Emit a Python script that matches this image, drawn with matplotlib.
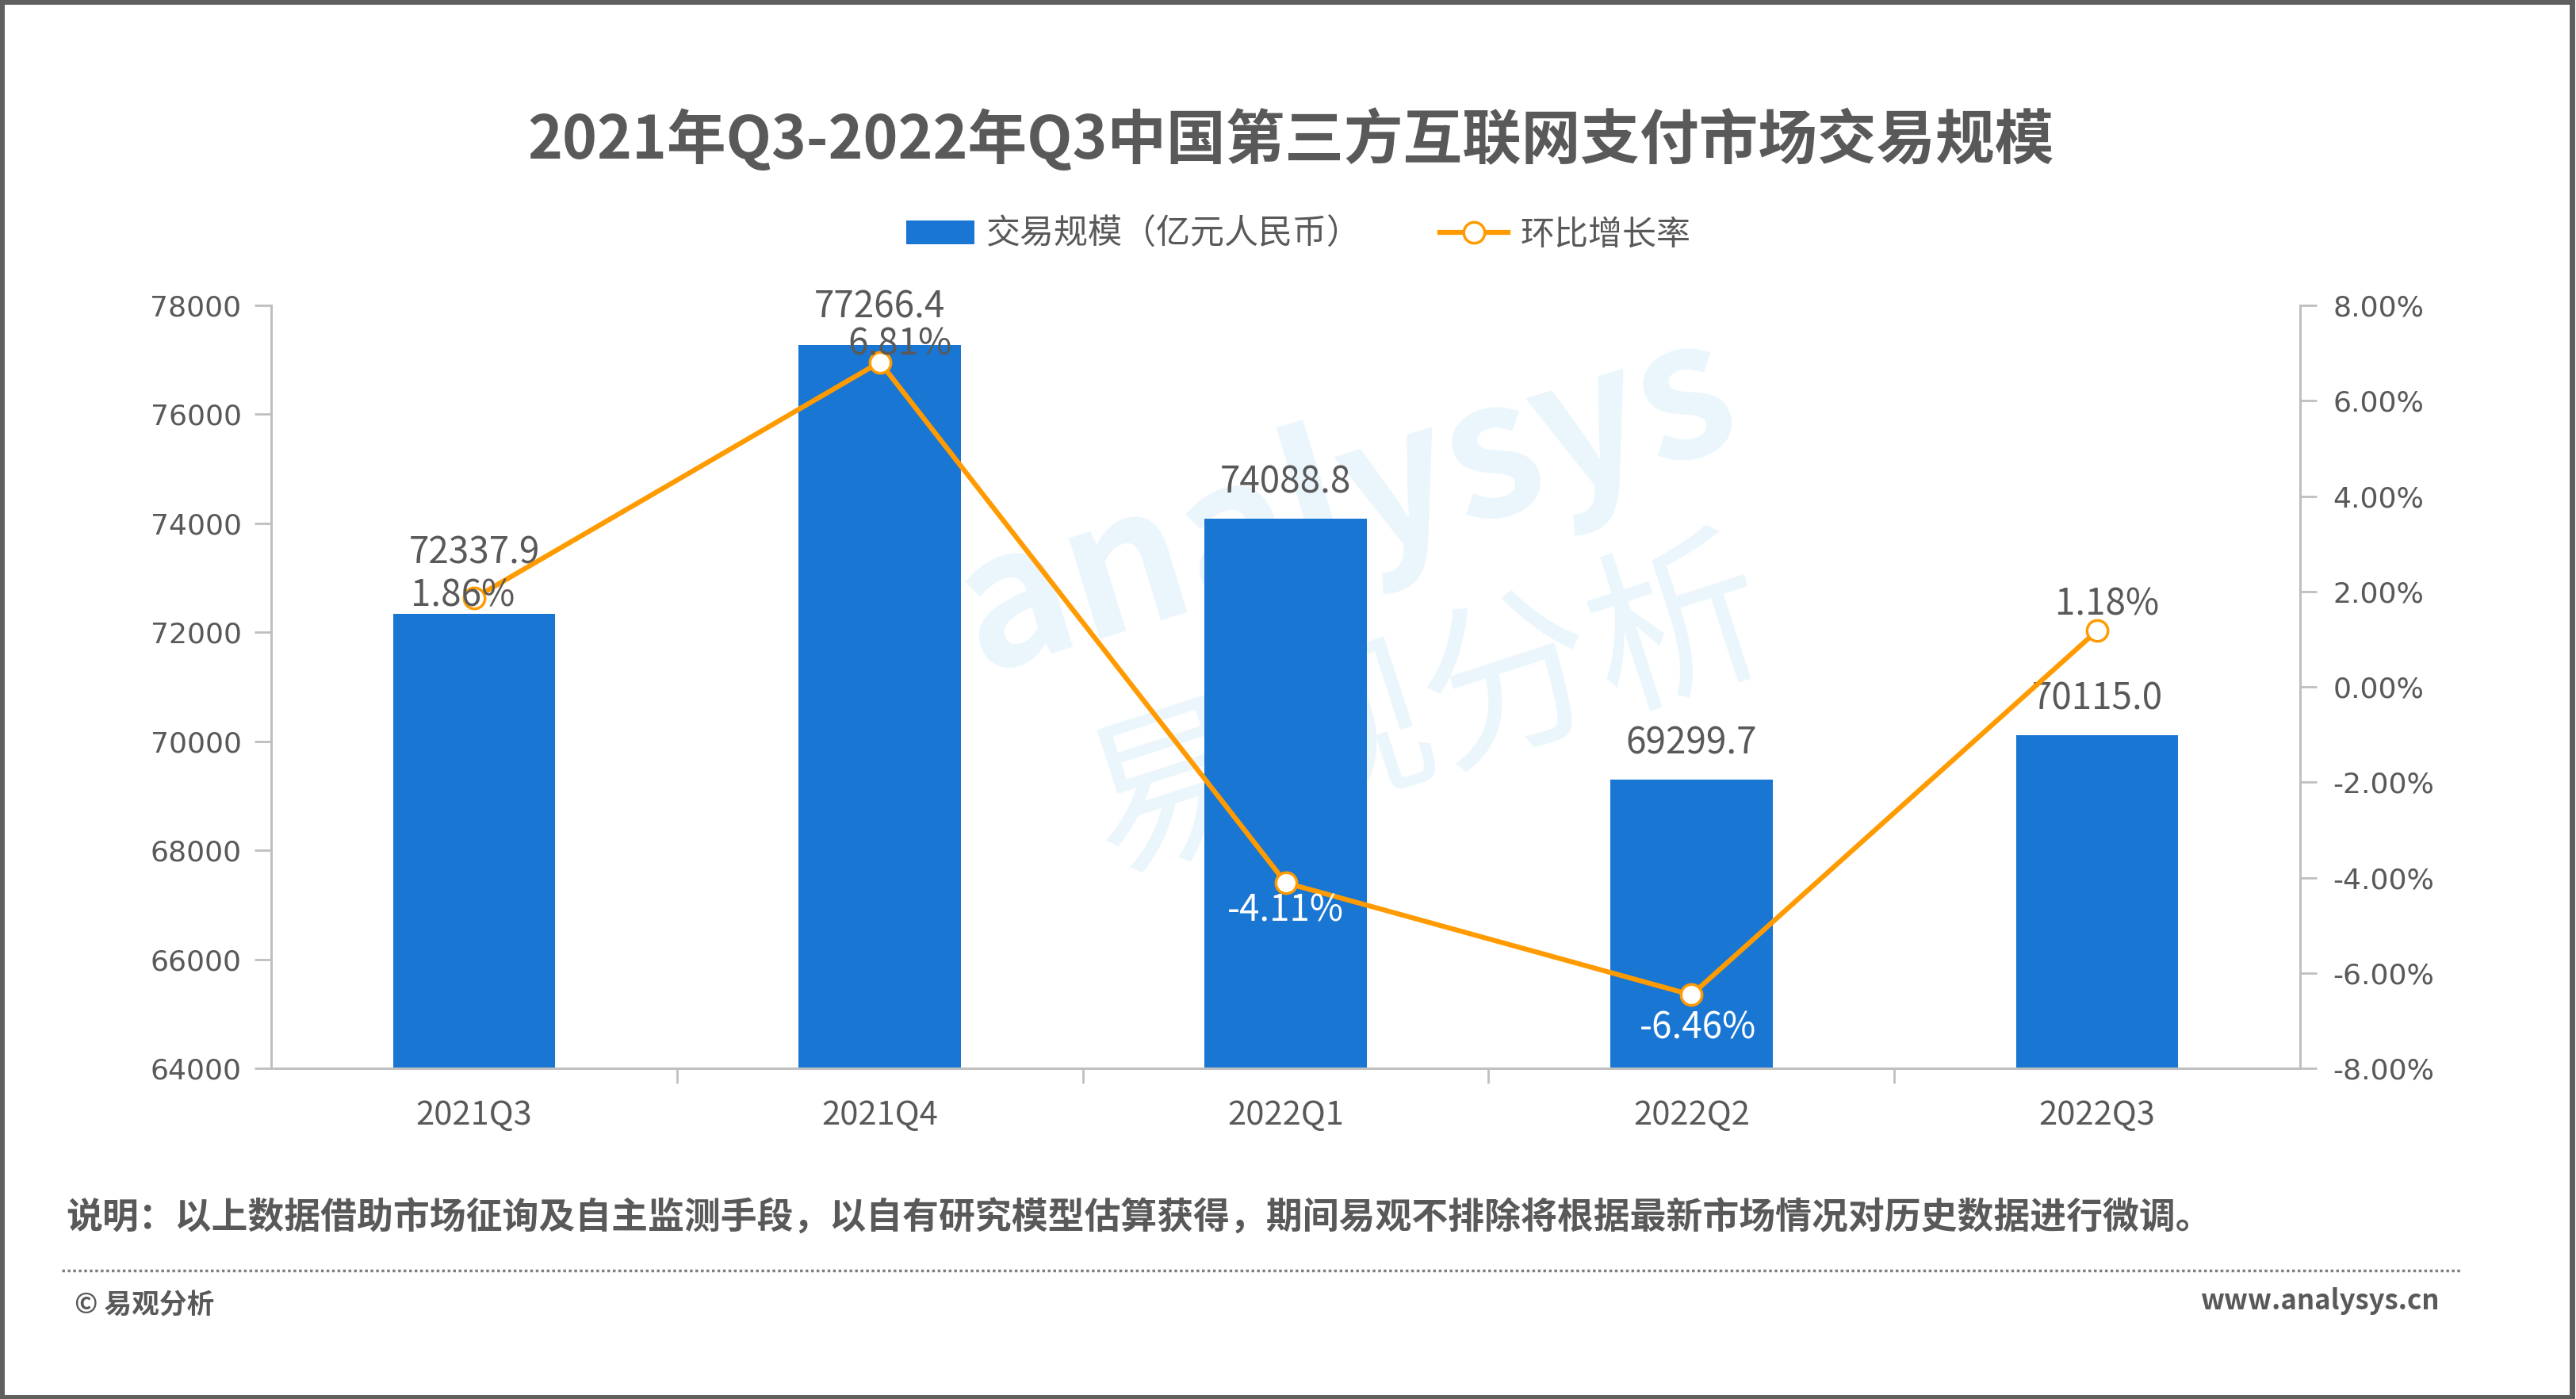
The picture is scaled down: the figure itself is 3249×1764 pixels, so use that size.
import matplotlib.pyplot as plt
from matplotlib.lines import Line2D
from matplotlib.patches import Patch, Rectangle

plt.rcParams['font.family'] = ['Noto Sans CJK SC', 'DejaVu Sans']

quarters = ['2021Q3', '2021Q4', '2022Q1', '2022Q2', '2022Q3']
volume = [72337.9, 77266.4, 74088.8, 69299.7, 70115.0]   # 亿元人民币
growth = [1.86, 6.81, -4.11, -6.46, 1.18]                # %

bar_color = '#1976D2'
line_color = '#FF9B00'
text_color = '#595959'
axis_color = '#BFBFBF'
wm_color = '#EAF6FC'

fig = plt.figure(figsize=(32.49, 17.64), dpi=100)
ax = fig.add_axes([0.1053, 0.2364, 0.7876, 0.5453])
ax2 = ax.twinx()

# watermark behind the bars
ax.text(0.53, 0.74, 'analysys', transform=ax.transAxes, fontsize=170, color=wm_color,
        rotation=17, ha='center', va='center', weight='bold', zorder=0)
ax.text(0.57, 0.465, '易观分析', transform=ax.transAxes, fontsize=160, color=wm_color,
        rotation=18, ha='center', va='center', zorder=0)

x = range(len(quarters))
ax.bar(x, volume, width=0.4, color=bar_color, zorder=2)
ax.set_ylim(64000, 78000)
ax.set_yticks(range(64000, 78001, 2000))
ax.set_xlim(-0.5, len(quarters) - 0.5)
ax.set_xticks(list(x))
ax.set_xticklabels(quarters, fontsize=30, color=text_color)
ax.set_xticks([i + 0.5 for i in range(len(quarters) - 1)], minor=True)
ax.tick_params(axis='x', which='major', length=0, pad=28)
ax.tick_params(axis='x', which='minor', length=14, width=2, color=axis_color)
ax.tick_params(axis='y', length=15, width=2, color=axis_color, labelsize=26,
               labelcolor=text_color, pad=12)
for lbl in ax.get_yticklabels():
    lbl.set_family('DejaVu Sans')

vol_offsets = [55, 35, 33, 33, 33]
for i, v in enumerate(volume):
    ax.annotate(f'{v:.1f}', (i, v), xytext=(0, vol_offsets[i]), textcoords='offset points',
                ha='center', va='center', fontsize=33, weight='medium', color=text_color, zorder=5)

ax2.plot(x, growth, color=line_color, lw=4.5, marker='o', markersize=19,
         markerfacecolor='white', markeredgecolor=line_color, markeredgewidth=2.5, zorder=4)
ax2.set_ylim(-8, 8)
ax2.set_yticks(range(-8, 9, 2))
ax2.set_yticklabels([f'{t:.2f}%' for t in range(-8, 9, 2)])
ax2.tick_params(axis='y', length=15, width=2, color=axis_color, labelsize=26,
                labelcolor=text_color, pad=15)
for lbl in ax2.get_yticklabels():
    lbl.set_family('DejaVu Sans')

pct_offsets = [(-10, 2), (18, 16), (0, -25), (6, -30), (9, 24)]
pct_colors = [text_color, text_color, 'white', 'white', text_color]
for i, g in enumerate(growth):
    ax2.annotate(f'{g:.2f}%', (i, g), xytext=pct_offsets[i], textcoords='offset points',
                 ha='center', va='center', fontsize=33, weight='medium',
                 color=pct_colors[i], zorder=6)

for a in (ax, ax2):
    a.spines['top'].set_visible(False)
    for s in ('left', 'right', 'bottom'):
        a.spines[s].set_color(axis_color)
        a.spines[s].set_linewidth(2)
ax.set_zorder(ax2.get_zorder() - 1)
ax2.patch.set_visible(False)

fig.text(0.501, 0.900, '2021年Q3-2022年Q3中国第三方互联网支付市场交易规模',
         ha='center', va='center', fontsize=53.7, weight='bold', color=text_color)

handles = [Patch(facecolor=bar_color),
           Line2D([], [], color=line_color, lw=4.5, marker='o', markersize=19,
                  markerfacecolor='white', markeredgecolor=line_color, markeredgewidth=2.5)]
fig.legend(handles, ['交易规模（亿元人民币）', '环比增长率'], loc='center',
           bbox_to_anchor=(0.504, 0.832), ncol=2, frameon=False, fontsize=31,
           handlelength=2.0, handletextpad=0.35, columnspacing=2.3, labelcolor=text_color)

fig.text(0.0255, 0.129, '说明：以上数据借助市场征询及自主监测手段，以自有研究模型估算获得，期间易观不排除将根据最新市场情况对历史数据进行微调。',
         ha='left', va='center', fontsize=33, weight='bold', color=text_color)
fig.add_artist(Line2D([0.024, 0.955], [0.092, 0.092], transform=fig.transFigure,
                      color='#7F7F7F', lw=2.5, ls=(0, (1, 1))))
fig.text(0.029, 0.067, '© 易观分析', ha='left', va='center', fontsize=25,
         weight='bold', color=text_color)
fig.text(0.947, 0.070, 'www.analysys.cn', ha='right', va='center', fontsize=25,
         weight='bold', color=text_color)

fig.add_artist(Rectangle((0.0005, 0.001), 0.998, 0.998, transform=fig.transFigure,
                         fill=False, edgecolor='#5F5F5F', lw=5))

fig.savefig('out.png', dpi=100)
